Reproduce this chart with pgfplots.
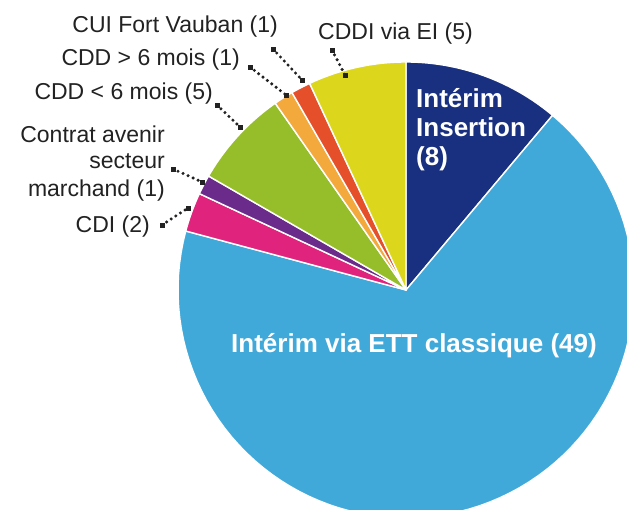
\documentclass[border=0pt]{standalone}
\usepackage{pgfplots}
\pgfplotsset{compat=1.18}
\usepackage{fontspec}
\setmainfont{Liberation Sans}
\definecolor{cIns}{HTML}{18307F}
\definecolor{cETT}{HTML}{41A9D9}
\definecolor{cCDI}{HTML}{E0237C}
\definecolor{cCAV}{HTML}{6B2B8A}
\definecolor{cCDDm}{HTML}{96BD2A}
\definecolor{cCDDp}{HTML}{F4A93C}
\definecolor{cCUI}{HTML}{E5502A}
\definecolor{cCDDI}{HTML}{DCD61C}
\definecolor{txt}{HTML}{222222}
% slice: colour, cumulative count before, count  (total 72, start at 12 o'clock, clockwise)
\newcommand\slice[3]{%
  \addplot[fill=#1, draw=white, line width=1.4pt, line join=round,
    domain={90-360*(#2+#3)/72}:{90-360*(#2)/72}, samples=90, variable=\t]
    ({406+228*cos(\t)},{220+228*sin(\t)}) -- (axis cs:406,220) -- cycle;}
\newcommand\leader[4]{%
  \addplot[txt, line width=3.4pt, line cap=round, dash pattern=on 0pt off 5.5pt,
    mark=square*, mark size=1.9pt, mark options={solid, fill=txt, draw=txt, line width=0.4pt}]
    coordinates {(#1,#2) (#3,#4)};}
\begin{document}
\begin{tikzpicture}
\begin{axis}[
  scale only axis, width=627pt, height=510pt,
  xmin=0, xmax=627, ymin=0, ymax=510,
  hide axis, clip=true,
]
% counts: Interim Insertion 8, Interim ETT 49, CDI 2, Contrat avenir 1,
% CDD<6 mois 5, CDD>6 mois 1, CUI Fort Vauban 1, CDDI via EI 5
\slice{cIns}{0}{8}
\slice{cETT}{8}{49}
\slice{cCDI}{57}{2}
\slice{cCAV}{59}{1}
\slice{cCDDm}{60}{5}
\slice{cCDDp}{65}{1}
\slice{cCUI}{66}{1}
\slice{cCDDI}{67}{5}
% leaders
\leader{273}{461}{302}{430}
\leader{250}{443}{286}{415}
\leader{217}{405}{240}{383}
\leader{173}{341}{202}{328}
\leader{162}{285}{188}{302}
\leader{332}{460}{345}{435}
% labels
\begin{scope}[every node/.style={font=\fontsize{23}{27}\selectfont, text=txt, inner sep=0pt}]
\node[anchor=base east] at (axis cs:278,477) {CUI Fort Vauban (1)};
\node[anchor=base east] at (axis cs:240,444) {CDD > 6 mois (1)};
\node[anchor=base east] at (axis cs:213,410) {CDD < 6 mois (5)};
\node[anchor=base east] at (axis cs:165,367) {Contrat avenir};
\node[anchor=base east] at (axis cs:165,341) {secteur};
\node[anchor=base east] at (axis cs:165,313) {marchand (1)};
\node[anchor=base east] at (axis cs:150,277) {CDI (2)};
\node[anchor=base west] at (axis cs:318,470) {CDDI via EI (5)};
\end{scope}
\begin{scope}[every node/.style={font=\fontsize{26}{30}\selectfont\bfseries, text=white, inner sep=0pt}]
\node[anchor=base west] at (axis cs:416,402) {Intérim};
\node[anchor=base west] at (axis cs:416,373) {Insertion};
\node[anchor=base west] at (axis cs:416,344) {(8)};
\node[anchor=base] at (axis cs:414,157) {Intérim via ETT classique (49)};
\end{scope}
\end{axis}
\pgfresetboundingbox
\path[use as bounding box] (current axis.south west) rectangle (current axis.north east);
\end{tikzpicture}
\end{document}
